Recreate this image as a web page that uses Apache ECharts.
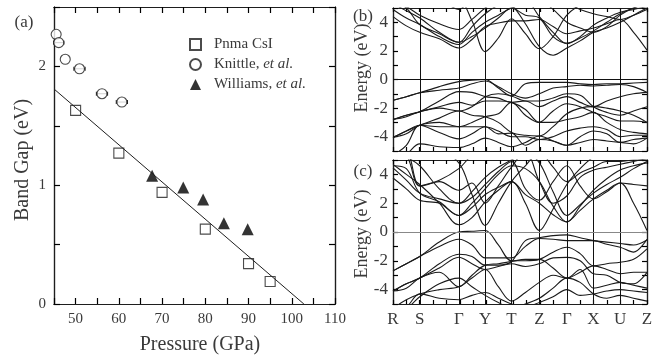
<!DOCTYPE html>
<html>
<head>
<meta charset="utf-8">
<script src="https://cdn.jsdelivr.net/npm/echarts@6/dist/echarts.min.js"></script>
<style>
  html, body { margin: 0; padding: 0; background: #fff; }
  #chart { width: 667px; height: 362px; }
</style>
</head>
<body>
<div id="chart"></div>
<script>
// panel (a): band gap vs pressure
const pnmaPressure = [50, 60, 70, 80, 90, 95];
const pnmaGap = [1.63, 1.27, 0.94, 0.63, 0.34, 0.19];
const knittlePressure = [45.5, 46.1, 47.6, 50.9, 56.1, 60.7];
const knittleGap = [2.27, 2.20, 2.06, 1.98, 1.77, 1.70];
const knittleErr = [0, 1.2, 0, 1.3, 1.3, 1.3];
const williamsPressure = [67.7, 74.9, 79.5, 84.3, 89.8];
const williamsGap = [1.08, 0.98, 0.88, 0.68, 0.63];
const fitPressure = [45, 102.8];
const fitGap = [1.81, 0];

// panels (b), (c): band structures along the k-path
const kPos = [0, 13.3, 26.7, 46.2, 65.7, 78.8, 92, 105.1, 118.2, 132.1, 146, 159.7, 173.4, 186.7, 200, 213.3, 226.7, 240, 253.4];
const kTicks = [0, 26.7, 65.7, 92, 118.2, 146, 173.4, 200, 226.7, 253.4];
const kLabels = ['R', 'S', 'Γ', 'Y', 'T', 'Z', 'Γ', 'X', 'U', 'Z'];

const bC1 = [4.4, 3.75, 3.3, 2.85, 2.2, 2.8, 3.7, 3.95, 4.1, 4.1, 4.2, 3.7, 3.2, 3.4, 3.6, 3.9, 4.2, 3.3, 2.05];
const bC2 = [4.9, 4.3, 3.85, 3.0, 2.45, 3.3, 4.0, 4.5, 5.0, 5.3, 5.5, 5.5, 5.3, 4.9, 4.6, 4.4, 4.2, 4.5, 4.9];
const bC3 = [5.3, 4.8, 4.3, 3.3, 2.6, 3.7, 4.6, 5.2, 5.5, 5.5, 5.5, 4.9, 4.0, 3.6, 3.3, 3.7, 4.5, 5.0, 5.3];
const bC4 = [5.5, 5.5, 5.5, 5.5, 5.5, 4.1, 1.95, 2.9, 4.25, 3.2, 2.15, 3.0, 4.5, 5.2, 5.5, 5.5, 5.5, 5.5, 5.5];
const bC5 = [5.5, 5.5, 5.5, 5.5, 4.9, 5.5, 5.5, 5.5, 5.2, 3.9, 2.3, 1.7, 2.2, 2.7, 3.3, 3.6, 4.0, 4.5, 5.0];
const bC6 = [5.5, 5.1, 4.5, 3.9, 3.5, 4.2, 5.0, 5.5, 5.5, 5.5, 4.4, 3.3, 2.5, 3.0, 3.8, 4.3, 4.7, 4.9, 5.1];
const bC7 = [5.5, 5.0, 3.85, 3.2, 2.6, 3.0, 3.6, 4.3, 5.0, 4.5, 4.3, 3.0, 2.55, 2.9, 3.4, 4.0, 4.6, 5.0, 5.3];
const bV1 = [-1.45, -1.2, -0.93, -0.5, -0.15, -0.05, 0.0, -0.6, -1.15, -0.3, -0.2, -0.2, -0.2, -0.3, -0.35, -0.3, -0.3, -0.25, -0.2];
const bV2 = [-1.45, -1.2, -0.93, -0.75, -0.6, -0.3, -0.1, -0.5, -1.0, -1.3, -1.0, -0.6, -0.5, -0.4, -0.45, -0.4, -0.35, -0.5, -0.9];
const bV3 = [-2.8, -2.5, -2.25, -1.5, -0.85, -0.9, -1.2, -1.3, -1.6, -1.5, -1.9, -1.5, -1.2, -1.6, -1.9, -1.5, -1.2, -1.0, -0.9];
const bV4 = [-2.8, -2.5, -2.25, -1.9, -1.6, -1.8, -1.5, -1.5, -1.6, -2.1, -3.0, -2.2, -1.7, -1.9, -2.3, -2.6, -2.9, -2.9, -3.0];
const bV5 = [-4.05, -3.6, -3.2, -2.7, -2.2, -2.5, -2.6, -3.0, -3.7, -3.9, -3.95, -3.3, -2.4, -2.0, -1.9, -2.0, -2.2, -2.5, -3.0];
const bV6 = [-4.05, -3.6, -3.2, -3.3, -3.3, -3.3, -3.3, -3.6, -4.0, -4.0, -4.2, -4.0, -3.6, -3.4, -3.3, -3.5, -4.0, -3.9, -3.9];
const bV7 = [-5.3, -4.6, -3.2, -3.7, -4.15, -3.8, -3.3, -3.8, -3.75, -4.6, -4.2, -4.3, -4.6, -4.4, -4.2, -4.3, -4.4, -4.5, -4.1];
const bV8 = [-5.5, -5.2, -4.5, -4.7, -4.75, -4.5, -4.1, -4.4, -4.7, -4.4, -3.95, -4.3, -4.6, -4.0, -3.6, -3.8, -4.4, -4.2, -4.1];
const bV9 = [-2.8, -2.6, -2.25, -2.0, -2.2, -1.9, -1.2, -1.0, -1.15, -1.5, -1.5, -1.3, -1.0, -1.1, -1.9, -2.3, -2.5, -2.2, -1.9];
const bV10 = [-4.05, -3.8, -3.2, -3.0, -3.3, -3.0, -2.6, -2.4, -1.6, -2.5, -3.0, -3.0, -2.8, -2.6, -2.3, -3.0, -3.5, -3.7, -3.8];

const cC1 = [4.7, 4.0, 3.3, 2.0, 0.5, 1.0, 2.1, 2.9, 3.5, 2.6, 2.0, 1.2, 0.7, 1.8, 2.9, 3.7, 4.3, 4.6, 4.8];
const cC2 = [3.75, 3.0, 2.2, 2.0, 1.15, 1.7, 2.6, 3.1, 3.5, 2.0, 0.1, 1.6, 3.3, 4.4, 5.2, 5.5, 5.5, 5.5, 5.5];
const cC3 = [5.5, 5.5, 5.5, 5.5, 4.8, 2.6, 0.45, 2.0, 3.5, 4.6, 5.5, 5.5, 5.5, 5.5, 5.5, 5.5, 5.5, 5.5, 5.5];
const cC4 = [5.5, 5.2, 4.6, 3.0, 2.0, 2.4, 3.3, 4.2, 4.9, 3.0, 2.2, 3.5, 4.6, 3.2, 2.3, 2.8, 3.4, 2.0, 0.1];
const cC5 = [4.45, 3.6, 2.7, 2.3, 2.0, 2.8, 3.8, 4.5, 5.0, 5.5, 4.8, 2.8, 1.15, 1.9, 2.7, 3.3, 3.8, 4.4, 4.9];
const cC6 = [5.5, 5.5, 3.2, 3.6, 4.4, 5.3, 5.5, 5.5, 5.5, 5.5, 3.5, 2.0, 2.5, 3.8, 4.3, 4.5, 4.7, 4.9, 5.1];
const cC7 = [4.6, 4.4, 2.7, 2.1, 1.15, 2.0, 3.0, 4.0, 4.6, 4.4, 3.5, 1.8, 0.7, 1.5, 2.3, 2.9, 3.4, 3.3, 3.2];
const cC8 = [5.5, 5.3, 3.2, 3.5, 2.9, 3.4, 2.0, 3.2, 4.5, 5.5, 5.5, 4.5, 3.5, 4.1, 4.5, 4.9, 4.9, 5.0, 5.0];
const cV1 = [-2.7, -2.2, -1.7, -0.7, 0.0, 0.05, 0.1, -0.9, -2.0, -2.0, -1.9, -1.4, -1.06, -1.5, -2.35, -2.2, -2.1, -1.9, -1.17];
const cV2 = [-2.7, -2.2, -1.7, -1.0, -0.5, -0.9, -1.8, -1.8, -1.8, -1.0, -0.45, -0.5, -0.6, -0.6, -0.6, -0.85, -1.06, -1.4, -0.5];
const cV3 = [-4.1, -3.6, -3.2, -2.2, -1.55, -1.7, -2.3, -2.3, -2.05, -0.6, -0.4, -0.25, -0.2, -0.4, -0.6, -0.7, -0.8, -0.9, -0.55];
const cV4 = [-4.1, -3.6, -3.2, -2.5, -1.75, -2.2, -2.6, -2.4, -2.2, -2.4, -2.2, -1.8, -1.76, -2.0, -2.9, -3.0, -3.5, -3.6, -2.8];
const cV5 = [-5.3, -4.7, -4.3, -4.0, -3.8, -3.2, -2.6, -3.8, -4.8, -4.2, -3.5, -3.0, -3.2, -2.6, -3.9, -3.7, -3.5, -3.7, -3.9];
const cV6 = [-5.5, -5.2, -4.3, -4.6, -4.7, -4.4, -4.2, -4.6, -5.0, -5.2, -4.9, -4.5, -4.0, -4.4, -4.3, -4.1, -4.0, -4.1, -4.2];
const cV7 = [-5.5, -5.3, -4.5, -3.6, -3.2, -3.8, -4.4, -4.9, -5.3, -5.0, -4.6, -3.9, -3.2, -3.5, -4.3, -4.6, -4.4, -4.6, -4.8];
const cV8 = [-4.1, -3.9, -3.2, -2.8, -3.8, -3.0, -2.3, -2.2, -2.05, -1.9, -1.9, -2.5, -3.2, -2.8, -2.35, -2.6, -2.9, -2.8, -2.8];

const bandsB = [bC1, bC2, bC3, bC4, bC5, bC6, bC7, bV1, bV2, bV3, bV4, bV5, bV6, bV7, bV8, bV9, bV10];
const bandsC = [cC1, cC2, cC3, cC4, cC5, cC6, cC7, cC8, cV1, cV2, cV3, cV4, cV5, cV6, cV7, cV8];

const FONT = 'Liberation Serif';
const INK = '#1e1e1e';
const TXT = '#3a3a3a';

const chart = echarts.init(document.getElementById('chart'));

const zip = (xs, ys) => xs.map((x, i) => [x, ys[i]]);

// grids 0-2 carry the data, labels and frame lines; grids 3-5 sit on top
// of them and only draw the inward ticks on all four sides
const grids = [
  { left: 54, right: 332, top: 7, bottom: 58 },
  { left: 393, right: 20, top: 8, height: 143 },
  { left: 393, right: 20, top: 160, height: 144 },
];

const pAxisBase = { type: 'value', min: 45, max: 110, interval: 5 };
const gAxisBase = { type: 'value', min: 0, max: 2.5, interval: 0.5 };
const kAxisBase = { type: 'value', min: 0, max: 253.4, interval: 13.34 };
const eAxisBase = { type: 'value', min: -5, max: 5, interval: 1 };

function mainAxis(extra) {
  return Object.assign({
    axisLine: { show: true, onZero: false, lineStyle: { color: INK, width: 1.2 } },
    axisTick: { show: false },
    splitLine: { show: false },
    axisLabel: { show: false },
  }, extra);
}

function tickAxis(extra, len) {
  return Object.assign({
    axisLine: { show: true, onZero: false, lineStyle: { color: INK, width: 1.2 } },
    axisTick: { show: true, inside: true, length: len, lineStyle: { color: '#000', width: 1.2 } },
    splitLine: { show: false },
    axisLabel: { show: false },
  }, extra);
}

const eLabel = {
  show: true, fontFamily: FONT, fontSize: 17, color: TXT, margin: 5,
  formatter: v => (v % 2 === 0 ? String(v) : ''),
};

const xAxes = [
  mainAxis(Object.assign({ gridIndex: 0, position: 'bottom',
    axisLabel: { show: true, fontFamily: FONT, fontSize: 15, color: TXT, margin: 8,
      formatter: v => (v % 10 === 0 ? String(v) : '') } }, pAxisBase)),
  mainAxis(Object.assign({ gridIndex: 0, position: 'top' }, pAxisBase)),
  mainAxis(Object.assign({ gridIndex: 1, position: 'bottom' }, kAxisBase)),
  mainAxis(Object.assign({ gridIndex: 1, position: 'top' }, kAxisBase)),
  mainAxis(Object.assign({ gridIndex: 2, position: 'bottom' }, kAxisBase, {
    axisLabel: { show: true, customValues: kTicks, fontFamily: FONT, fontSize: 17, color: TXT, margin: 7,
      formatter: v => kLabels[kTicks.indexOf(v)] } })),
  mainAxis(Object.assign({ gridIndex: 2, position: 'top' }, kAxisBase)),
  // tick-only overlays
  tickAxis(Object.assign({ gridIndex: 3, position: 'bottom' }, pAxisBase), 6),
  tickAxis(Object.assign({ gridIndex: 3, position: 'top' }, pAxisBase), 6),
  tickAxis(Object.assign({ gridIndex: 4, position: 'bottom' }, kAxisBase), 4),
  tickAxis(Object.assign({ gridIndex: 4, position: 'top' }, kAxisBase), 4),
  tickAxis(Object.assign({ gridIndex: 5, position: 'bottom' }, kAxisBase), 4),
  tickAxis(Object.assign({ gridIndex: 5, position: 'top' }, kAxisBase), 4),
];

const yAxes = [
  mainAxis(Object.assign({ gridIndex: 0, position: 'left',
    axisLabel: { show: true, fontFamily: FONT, fontSize: 15, color: TXT, margin: 8,
      formatter: v => (Number.isInteger(v) ? String(v) : '') } }, gAxisBase)),
  mainAxis(Object.assign({ gridIndex: 0, position: 'right' }, gAxisBase)),
  mainAxis(Object.assign({ gridIndex: 1, position: 'left', axisLabel: eLabel }, eAxisBase)),
  mainAxis(Object.assign({ gridIndex: 1, position: 'right' }, eAxisBase)),
  mainAxis(Object.assign({ gridIndex: 2, position: 'left', axisLabel: eLabel }, eAxisBase)),
  mainAxis(Object.assign({ gridIndex: 2, position: 'right' }, eAxisBase)),
  // tick-only overlays
  tickAxis(Object.assign({ gridIndex: 3, position: 'left' }, gAxisBase), 6),
  tickAxis(Object.assign({ gridIndex: 3, position: 'right' }, gAxisBase), 6),
  tickAxis(Object.assign({ gridIndex: 4, position: 'left' }, eAxisBase), 5),
  tickAxis(Object.assign({ gridIndex: 4, position: 'right' }, eAxisBase), 5),
  tickAxis(Object.assign({ gridIndex: 5, position: 'left' }, eAxisBase), 5),
  tickAxis(Object.assign({ gridIndex: 5, position: 'right' }, eAxisBase), 5),
];

function bandSeries(bands, axisIdx, zeroColor) {
  return bands.map((b, i) => ({
    type: 'line',
    xAxisIndex: axisIdx,
    yAxisIndex: axisIdx,
    data: zip(kPos, b),
    smooth: 0.35,
    showSymbol: false,
    silent: true,
    clip: true,
    lineStyle: { color: '#1a1a1a', width: 1.1 },
    markLine: i === 0 ? {
      silent: true,
      symbol: ['none', 'none'],
      label: { show: false },
      data: kTicks.slice(1, -1).map(v => ({ xAxis: v, lineStyle: { color: '#111', width: 1, type: 'solid' } }))
        .concat([{ yAxis: 0, lineStyle: { color: zeroColor, width: 1.2, type: 'solid' } }]),
    } : undefined,
  }));
}

const option = {
  animation: false,
  backgroundColor: '#fff',
  grid: grids.concat(grids.map(g => Object.assign({}, g))),
  xAxis: xAxes,
  yAxis: yAxes,
  legend: {
    data: ['Pnma CsI', 'Knittle, et al.', 'Williams, et al.'],
    orient: 'vertical',
    left: 184,
    top: 32,
    itemGap: 5,
    itemWidth: 11,
    itemHeight: 11,
    textStyle: {
      fontFamily: FONT, fontSize: 15, color: TXT, padding: [0, 0, 0, 8],
      rich: { i: { fontFamily: FONT, fontSize: 15, fontStyle: 'italic', color: TXT } },
    },
    formatter: name => name.replace('et al.', '{i|et al.}'),
  },
  graphic: [
    { type: 'text', x: 24, y: 23, style: { text: '(a)', font: '17px "Liberation Serif"', fill: TXT, align: 'center', verticalAlign: 'middle' } },
    { type: 'text', x: 363, y: 17, style: { text: '(b)', font: '17px "Liberation Serif"', fill: TXT, align: 'center', verticalAlign: 'middle' } },
    { type: 'text', x: 363, y: 172, style: { text: '(c)', font: '17px "Liberation Serif"', fill: TXT, align: 'center', verticalAlign: 'middle' } },
    { type: 'text', x: 23, y: 160, rotation: Math.PI / 2, style: { text: 'Band Gap (eV)', font: '20px "Liberation Serif"', fill: TXT, align: 'center', verticalAlign: 'middle' } },
    { type: 'text', x: 200, y: 345, style: { text: 'Pressure (GPa)', font: '20px "Liberation Serif"', fill: TXT, align: 'center', verticalAlign: 'middle' } },
    { type: 'text', x: 362, y: 68, rotation: Math.PI / 2, style: { text: 'Energy (eV)', font: '18px "Liberation Serif"', fill: TXT, align: 'center', verticalAlign: 'middle' } },
    { type: 'text', x: 362, y: 234, rotation: Math.PI / 2, style: { text: 'Energy (eV)', font: '18px "Liberation Serif"', fill: TXT, align: 'center', verticalAlign: 'middle' } },
  ],
  series: [
    {
      name: 'fit',
      type: 'line',
      xAxisIndex: 0, yAxisIndex: 0,
      data: zip(fitPressure, fitGap),
      showSymbol: false,
      silent: true,
      lineStyle: { color: INK, width: 1 },
    },
    {
      name: 'errorbars',
      type: 'custom',
      xAxisIndex: 0, yAxisIndex: 0,
      data: knittlePressure.map((p, i) => [p, knittleGap[i], knittleErr[i]]),
      renderItem: (params, api) => {
        const e = api.value(2);
        if (!e) return null;
        const y = api.value(1);
        const a = api.coord([api.value(0) - e, y]);
        const b = api.coord([api.value(0) + e, y]);
        const st = { stroke: INK, lineWidth: 1 };
        return {
          type: 'group',
          children: [
            { type: 'line', shape: { x1: a[0], y1: a[1], x2: b[0], y2: b[1] }, style: st },
            { type: 'line', shape: { x1: a[0], y1: a[1] - 2, x2: a[0], y2: a[1] + 2 }, style: st },
            { type: 'line', shape: { x1: b[0], y1: b[1] - 2, x2: b[0], y2: b[1] + 2 }, style: st },
          ],
        };
      },
    },
    {
      name: 'Pnma CsI',
      type: 'scatter',
      xAxisIndex: 0, yAxisIndex: 0,
      data: zip(pnmaPressure, pnmaGap),
      symbol: 'rect',
      symbolSize: 10,
      itemStyle: { color: '#fff', borderColor: INK, borderWidth: 1.1 },
    },
    {
      name: 'Knittle, et al.',
      type: 'scatter',
      xAxisIndex: 0, yAxisIndex: 0,
      data: zip(knittlePressure, knittleGap),
      symbol: 'circle',
      symbolSize: 10,
      itemStyle: { color: '#fff', borderColor: INK, borderWidth: 1.1 },
    },
    {
      name: 'Williams, et al.',
      type: 'scatter',
      xAxisIndex: 0, yAxisIndex: 0,
      data: zip(williamsPressure, williamsGap),
      symbol: 'triangle',
      symbolSize: 12,
      itemStyle: { color: '#000' },
    },
  ].concat(bandSeries(bandsB, 2, '#111'), bandSeries(bandsC, 4, '#888')),
};

chart.setOption(option);
window.addEventListener('resize', () => chart.resize());
</script>
</body>
</html>
